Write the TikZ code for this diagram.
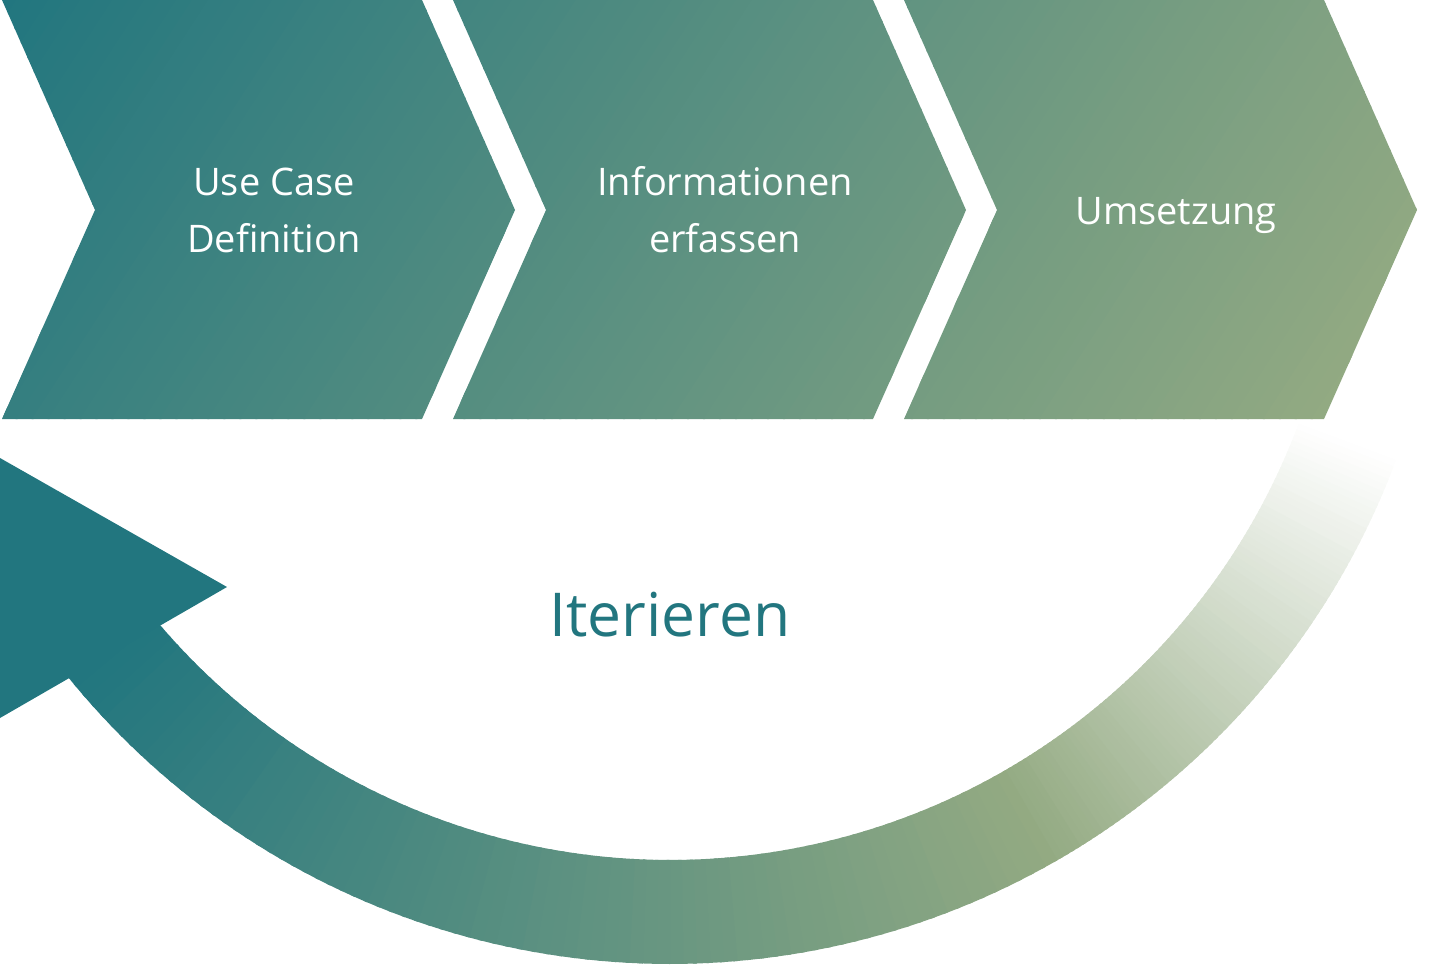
\documentclass[tikz,border=0pt]{standalone}
\usepackage{fontspec}
\setmainfont{Open Sans}
\definecolor{tea}{HTML}{22767F}
\definecolor{olv}{HTML}{93AA82}
\tikzset{
  steptext/.style={text=white,align=center,inner sep=0pt,font=\fontsize{10.8}{16.2}\selectfont},
  looptext/.style={text=tea,inner sep=0pt,anchor=base,font=\fontsize{17.2}{20}\selectfont}
}
\begin{document}
\begin{tikzpicture}[x=0.01cm,y=-0.01cm]
  \useasboundingbox (0,0) rectangle (1440,964);

  % Bogen (Verlauf olive -> weiss, teal -> olive)
  \begin{scope}[shift={(670,189)}]
    \foreach \a in {20,20.5,...,59.5}{
      \pgfmathtruncatemacro\p{(\a-20)*2.5}
      \fill[olv!\p!white] (\a:671) -- (\a:775) -- (\a+0.8:775) -- (\a+0.8:671) -- cycle;
    }
    \foreach \a in {60,...,144}{
      \pgfmathtruncatemacro\p{max(0,min(100,(140-\a)*1.25))}
      \fill[olv!\p!tea] (\a:671) -- (\a:775) -- (\a+1.3:775) -- (\a+1.3:671) -- cycle;
    }
  \end{scope}

  % Pfeilspitze
  \fill[tea] (0,458) -- (227,587) -- (0,718) -- cycle;

  % Prozessschritte
  \begin{scope}
    \clip (2,0) -- (422,0) -- (515,210) -- (422,419) -- (2,419) -- (95,210) -- cycle
          (453,0) -- (873,0) -- (966,210) -- (873,419) -- (453,419) -- (546,210) -- cycle
          (904,0) -- (1324,0) -- (1417,210) -- (1324,419) -- (904,419) -- (997,210) -- cycle;
    \foreach \i in {0,...,99}{
      \pgfmathsetmacro\u{\i*13.41}
      \fill[olv!\i!tea,rotate=-33] (\u,-800) -- (\u+15,-800) -- (\u+15,500) -- (\u,500) -- cycle;
    }
  \end{scope}

  % Beschriftung
  \node[steptext] (usecase) at (274,210) {Use Case\\Definition};
  \node[steptext] (info) at (725,210) {Informationen\\erfassen};
  \node[steptext,anchor=base] (umsetzung) at (1176,225) {Umsetzung};
  \node[looptext] (iterieren) at (670,636) {Iterieren};
\end{tikzpicture}
\end{document}
